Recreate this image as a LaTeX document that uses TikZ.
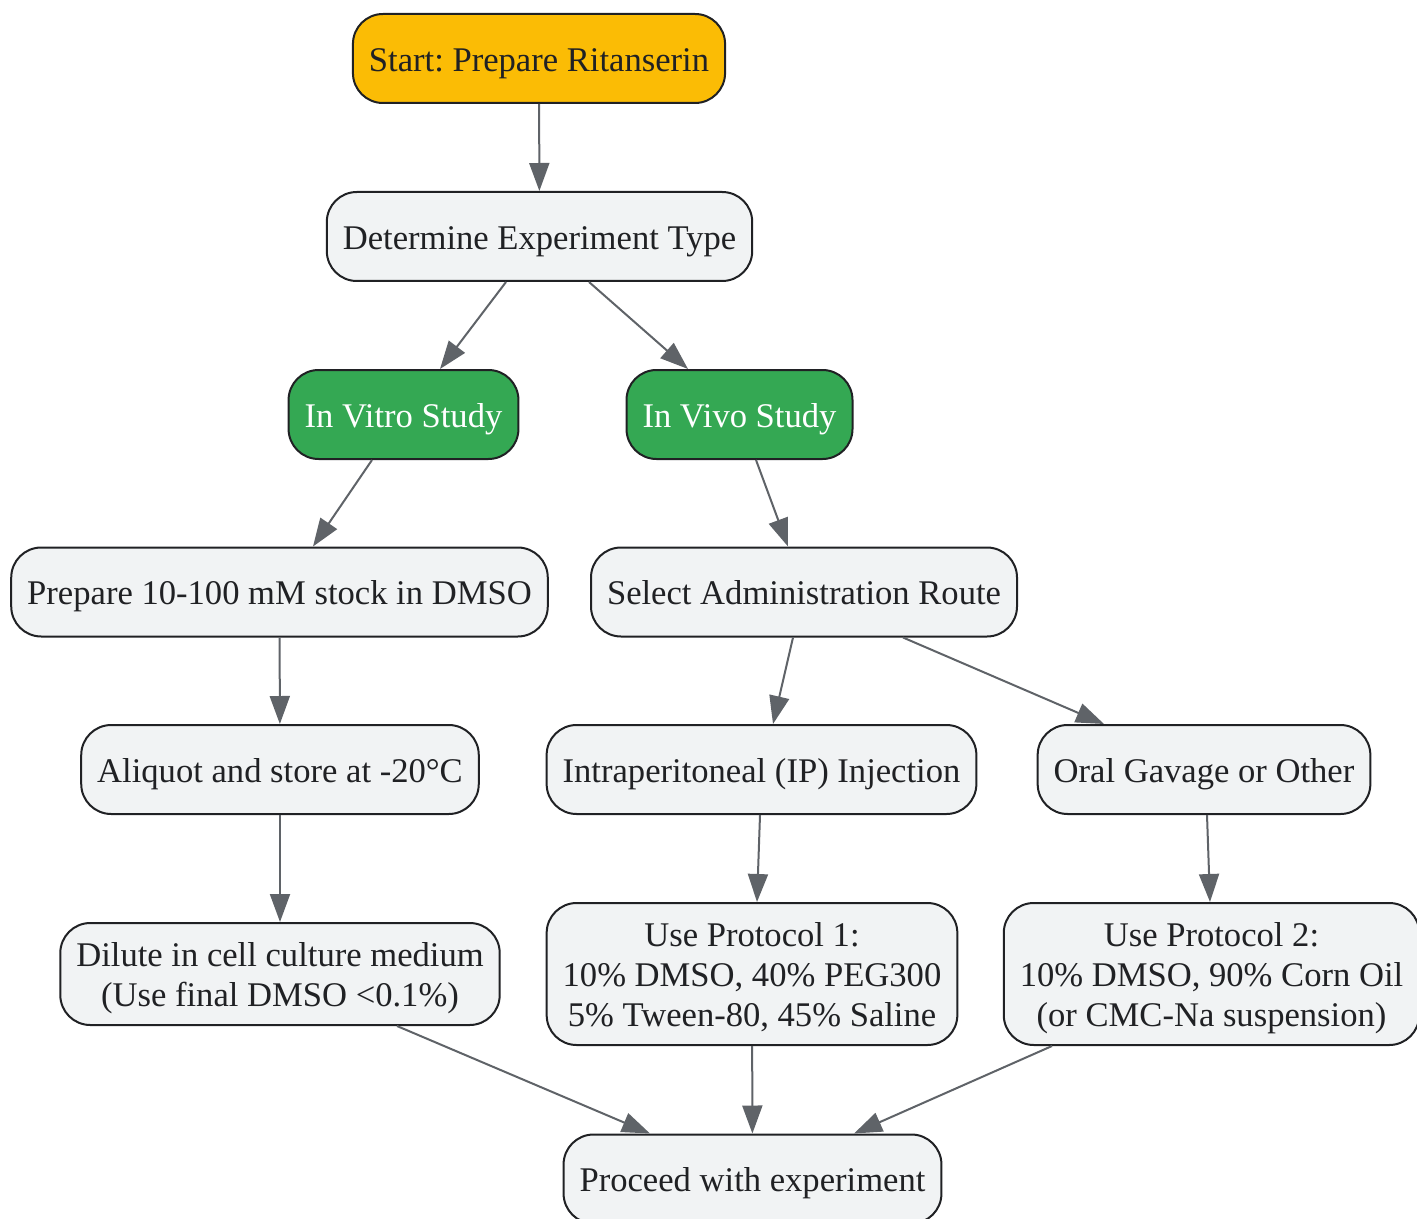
\documentclass[tikz,border=0pt]{standalone}
\usepackage{fontspec}
\setmainfont{Liberation Serif}
\usetikzlibrary{arrows.meta}
\usetikzlibrary{calc}
\frenchspacing

\definecolor{startyellow}{HTML}{FBBC05}
\definecolor{studygreen}{HTML}{34A853}
\definecolor{boxgray}{HTML}{F1F3F4}
\definecolor{linedark}{HTML}{202124}
\definecolor{arrowgray}{HTML}{5F6368}

\begin{document}
\begin{tikzpicture}[x=0.5pt,y=-0.5pt,>/.tip={Triangle[length=14pt,width=10pt]},
	box/.style={draw=linedark,line width=1pt,fill=boxgray,text=linedark,rounded corners=15pt,
		inner xsep=8pt,inner ysep=4pt,minimum height=44.5pt,align=center,
		font=\fontsize{17.3}{20}\selectfont,text height=16.8pt,text depth=4pt},
	twoline/.style={box,minimum height=51pt,text height=36.8pt},
	threeline/.style={box,minimum height=71pt,text height=56.8pt},
	startbox/.style={box,fill=startyellow},
	studybox/.style={box,fill=studygreen,text=white},
	arr/.style={->,draw=arrowgray,fill=arrowgray,line width=1pt}]
	\useasboundingbox (0,0) rectangle (1417,1219);

	\draw (539,58.5) node (start) [startbox] {Start: Prepare Ritanserin};
	\draw (539.5,236.5) node (det) [box] {Determine Experiment Type};
	\draw (403.5,414.5) node (vitro) [studybox] {In Vitro Study};
	\draw (739.5,414.5) node (vivo) [studybox] {In Vivo Study};
	\draw (279.5,592) node (stock) [box] {Prepare 10-100 mM stock in DMSO};
	\draw (804,592) node (route) [box] {Select Administration Route};
	\draw (280,769.5) node (aliquot) [box] {Aliquot and store at -20°C};
	\draw (761.5,769.5) node (ip) [box] {Intraperitoneal (IP) Injection};
	\draw (1204,769.5) node (oral) [box] {Oral Gavage or Other};
	\draw (280,974) node (dilute) [twoline] {Dilute in cell culture medium\\(Use final DMSO <0.1\%)};
	\draw (752,974) node (prot1) [threeline] {Use Protocol 1:\\10\% DMSO, 40\% PEG300\\5\% Tween-80, 45\% Saline};
	\draw (1211.5,974) node (prot2) [threeline] {Use Protocol 2:\\10\% DMSO, 90\% Corn Oil\\(or CMC-Na suspension)};
	\draw (752.5,1179) node (proceed) [box] {Proceed with experiment};

	\draw[arr] (start) -- (det);
	\draw[arr] ($(det.south)+(-33.5,0)$) -- ($(vitro.north)+(36.5,0)$);
	\draw[arr] ($(det.south)+(49.5,0)$) -- ($(vivo.north)+(-51.5,0)$);
	\draw[arr] ($(vitro.south)+(-31.5,0)$) -- ($(stock.north)+(33.5,0)$);
	\draw[arr] ($(vivo.south)+(16.5,0)$) -- ($(route.north)+(-16,0)$);
	\draw[arr] (stock) -- (aliquot);
	\draw[arr] (aliquot) -- (dilute);
	\draw[arr] ($(route.south)+(-11,0)$) -- ($(ip.north)+(11.5,0)$);
	\draw[arr] ($(route.south)+(99,0)$) -- ($(oral.north)+(-100,0)$);
	\draw[arr] ($(ip.south)+(-1.5,0)$) -- ($(prot1.north)+(5,0)$);
	\draw[arr] ($(oral.south)+(3,0)$) -- ($(prot2.north)+(-1.5,0)$);
	\draw[arr] ($(dilute.south)+(117,0)$) -- ($(proceed.north)+(-102.5,0)$);
	\draw[arr] (prot1) -- (proceed);
	\draw[arr] ($(prot2.south)+(-159.5,0)$) -- ($(proceed.north)+(101.5,0)$);
\end{tikzpicture}
\end{document}
